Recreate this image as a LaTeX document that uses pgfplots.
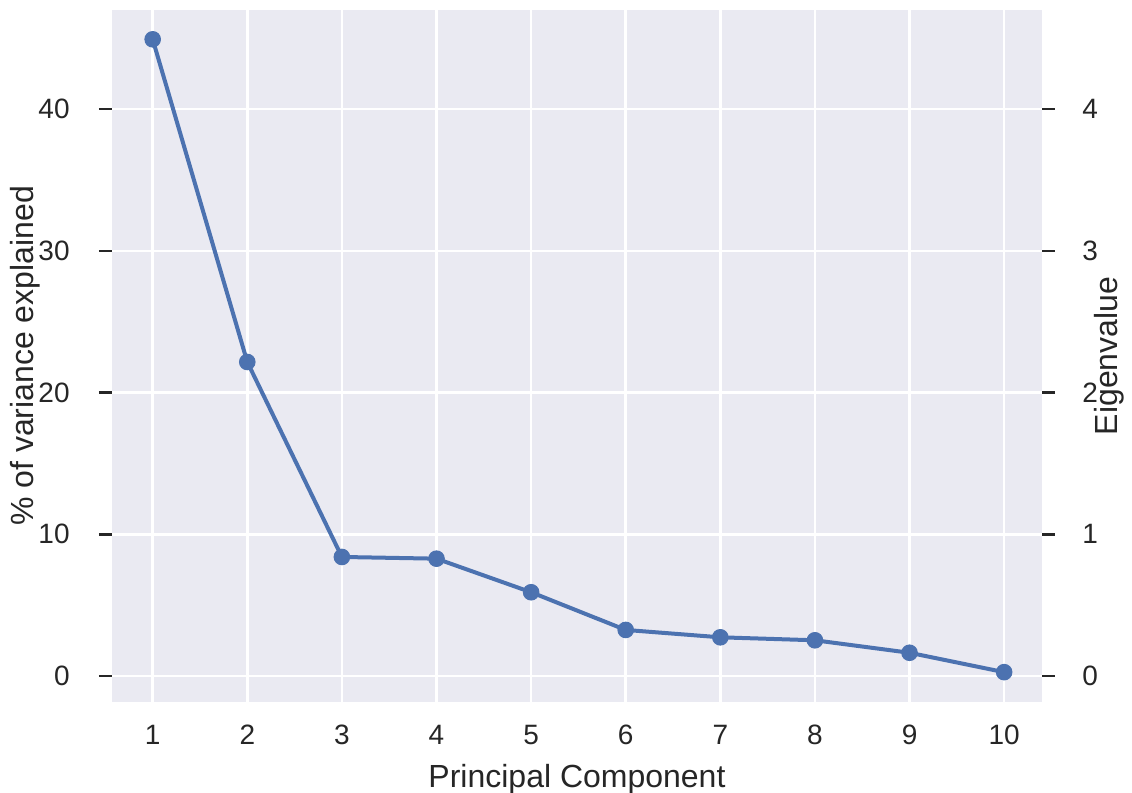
\documentclass[border=0pt]{standalone}
\usepackage{fontspec}
\setmainfont{Liberation Sans}
\usepackage{pgfplots}
\pgfplotsset{compat=1.18}
\definecolor{bg}{HTML}{EAEAF2}
\definecolor{sbblue}{HTML}{4C72B0}
\definecolor{txt}{HTML}{262626}
\begin{document}
\begin{tikzpicture}
\path[use as bounding box] (-56pt,-45.5pt) rectangle (510pt,351pt);
\begin{axis}[
  at={(0,0)}, anchor=south west, scale only axis,
  width=465pt, height=346pt,
  xmin=0.57, xmax=10.40, ymin=-1.835, ymax=47.0,
  axis background/.style={fill=bg},
  axis line style={draw=none},
  grid=major, grid style={white, line width=1.3pt},
  xtick={1,...,10}, ytick={0,10,20,30,40},
  ytick pos=left, xtick pos=bottom,
  tick align=outside, major tick length=6.5pt,
  xtick style={draw=none},
  ytick style={draw=txt, line width=1.3pt},
  /pgf/number format/assume math mode=true,
  ticklabel style={font=\fontsize{14}{16}\selectfont, text=txt},
  xticklabel style={anchor=center, yshift=-10pt},
  yticklabel style={anchor=east, inner sep=0pt, xshift=-14.5pt},
  label style={font=\fontsize{16}{18}\selectfont, text=txt},
  xlabel={Principal Component},
  xlabel style={at={(axis description cs:0.5,-0.1113)}, anchor=center},
  ylabel={\% of variance explained},
  ylabel style={at={(axis description cs:-0.0935,0.5)}, anchor=center},
]
\addplot[sbblue, line width=2pt, mark=*, mark size=3.9pt,
  mark options={solid, fill=sbblue, draw=sbblue, line width=0.5pt}]
coordinates {
(1,44.93) (2,22.16) (3,8.40) (4,8.28) (5,5.91)
(6,3.25) (7,2.73) (8,2.52) (9,1.64) (10,0.27)
};
\end{axis}
\begin{axis}[
  at={(0,0)}, anchor=south west, scale only axis,
  width=465pt, height=346pt,
  xmin=0.57, xmax=10.40, ymin=-0.1835, ymax=4.70,
  axis x line=none, axis y line*=right,
  axis line style={draw=none},
  ytick={0,1,2,3,4},
  tick align=outside, major tick length=6.5pt,
  ytick style={draw=txt, line width=1.3pt},
  /pgf/number format/assume math mode=true,
  ticklabel style={font=\fontsize{14}{16}\selectfont, text=txt},
  yticklabel style={anchor=west, inner sep=0pt, xshift=13.5pt},
  label style={font=\fontsize{16}{18}\selectfont, text=txt},
  ylabel={Eigenvalue},
  ylabel style={at={(axis description cs:1.072,0.5)}, anchor=center, rotate=0},
]
\addplot[draw=none, mark=none, forget plot] coordinates {(1,4.493) (10,0.027)};
\end{axis}
\end{tikzpicture}
\end{document}
